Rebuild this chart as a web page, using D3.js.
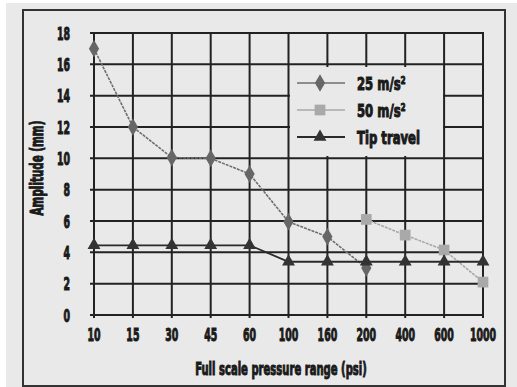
<!DOCTYPE html>
<html><head><meta charset="utf-8">
<script src="https://cdn.jsdelivr.net/npm/d3@7/dist/d3.min.js"></script>
<style>
html,body{margin:0;padding:0;background:#fff;}
svg text{font-family:"DejaVu Sans Condensed","DejaVu Sans",sans-serif;font-weight:bold;fill:#1a1a1a;stroke:#1a1a1a;stroke-width:1px;}
</style></head><body>
<svg id="c" width="517" height="387"></svg>
<script>
const categories = ["10","15","30","45","60","100","160","200","400","600","1000"];
const yTicks = [0,2,4,6,8,10,12,14,16,18];
const s25 = [17,12,10.05,10,9,5.95,5,3,null,null,null];
const s50 = [null,null,null,null,null,null,null,6.1,5.1,4.15,2.1];
const tip = [4.45,4.45,4.45,4.45,4.45,3.4,3.4,3.4,3.4,3.4,3.4];
const seriesNames = ["25 m/s²","50 m/s²","Tip travel"];
const xTitle = "Full scale pressure range (psi)";
const yTitle = "Amplitude (mm)";

const FS = 18;
function txt(parent, x, y, s, anchor, sx, rot){
  return parent.append("text")
    .attr("transform",`translate(${x},${y})${rot?" rotate("+rot+")":""} scale(${sx},1)`)
    .attr("text-anchor",anchor||"start").attr("font-size",FS).text(s);
}

const svg = d3.select("#c");
svg.append("rect").attr("x",6).attr("y",3).attr("width",511).attr("height",384).attr("fill","#e9e9e9");
svg.append("rect").attr("x",23).attr("y",10).attr("width",482).attr("height",376)
  .attr("fill","none").attr("stroke","#333").attr("stroke-width",2);

const x = d3.scalePoint(categories,[94,483]);
const y = d3.scaleLinear([0,18],[315,33]);
const g = svg.append("g");
g.selectAll(".hg").data(yTicks).join("line")
  .attr("x1",90).attr("x2",484).attr("y1",d=>y(d)).attr("y2",d=>y(d))
  .attr("stroke","#222").attr("stroke-width",2);
g.selectAll(".vg").data(categories).join("line")
  .attr("x1",d=>x(d)).attr("x2",d=>x(d)).attr("y1",y(18)-1).attr("y2",y(0)+3)
  .attr("stroke","#222").attr("stroke-width",2);
yTicks.forEach(d=>txt(g,70,y(d)+6.5,d,"end",0.58));
categories.forEach(d=>txt(g,x(d),341,d,"middle",0.58));
txt(svg,281,375,xTitle,"middle",0.62);
txt(svg,43,168,yTitle,"middle",0.64,-90);

const styles = [
  {line:"#6e6e6e",fill:"#666",sym:d3.symbolDiamond,size:90,dash:"3,1",w:1.6},
  {line:"#a8a8a8",fill:"#a9a9a9",sym:d3.symbolSquare,size:115,dash:"3,1",w:1.6},
  {line:"#2a2a2a",fill:"#333",sym:d3.symbolTriangle,size:72,dash:null,w:1.8}
];
const data = [s25,s50,tip];
data.forEach((vals,i)=>{
  const st = styles[i];
  const pts = categories.map((c,j)=>({c,v:vals[j]})).filter(p=>p.v!=null);
  const line = d3.line().x(p=>x(p.c)).y(p=>y(p.v));
  g.append("path").attr("d",line(pts)).attr("fill","none").attr("stroke",st.line)
    .attr("stroke-width",st.w).attr("stroke-dasharray",st.dash);
});
data.forEach((vals,i)=>{
  const st = styles[i];
  const pts = categories.map((c,j)=>({c,v:vals[j]})).filter(p=>p.v!=null);
  g.selectAll(null).data(pts).join("path")
    .attr("transform",p=>`translate(${x(p.c)},${y(p.v)})`)
    .attr("d",d3.symbol(st.sym,st.size)).attr("fill",st.fill);
});
const lg = svg.append("g");
lg.append("rect").attr("x",290).attr("y",67).attr("width",153).attr("height",89).attr("fill","#e9e9e9");
seriesNames.forEach((n,i)=>{
  const st = styles[i];
  const ly = 83 + i*27;
  lg.append("line").attr("x1",297).attr("x2",345).attr("y1",ly).attr("y2",ly)
    .attr("stroke",st.line).attr("stroke-width",st.w);
  lg.append("path").attr("transform",`translate(320,${ly})`).attr("d",d3.symbol(st.sym,st.size)).attr("fill",st.fill);
  txt(lg,357,ly+6.5,n,"start",0.72);
});
</script></body></html>
